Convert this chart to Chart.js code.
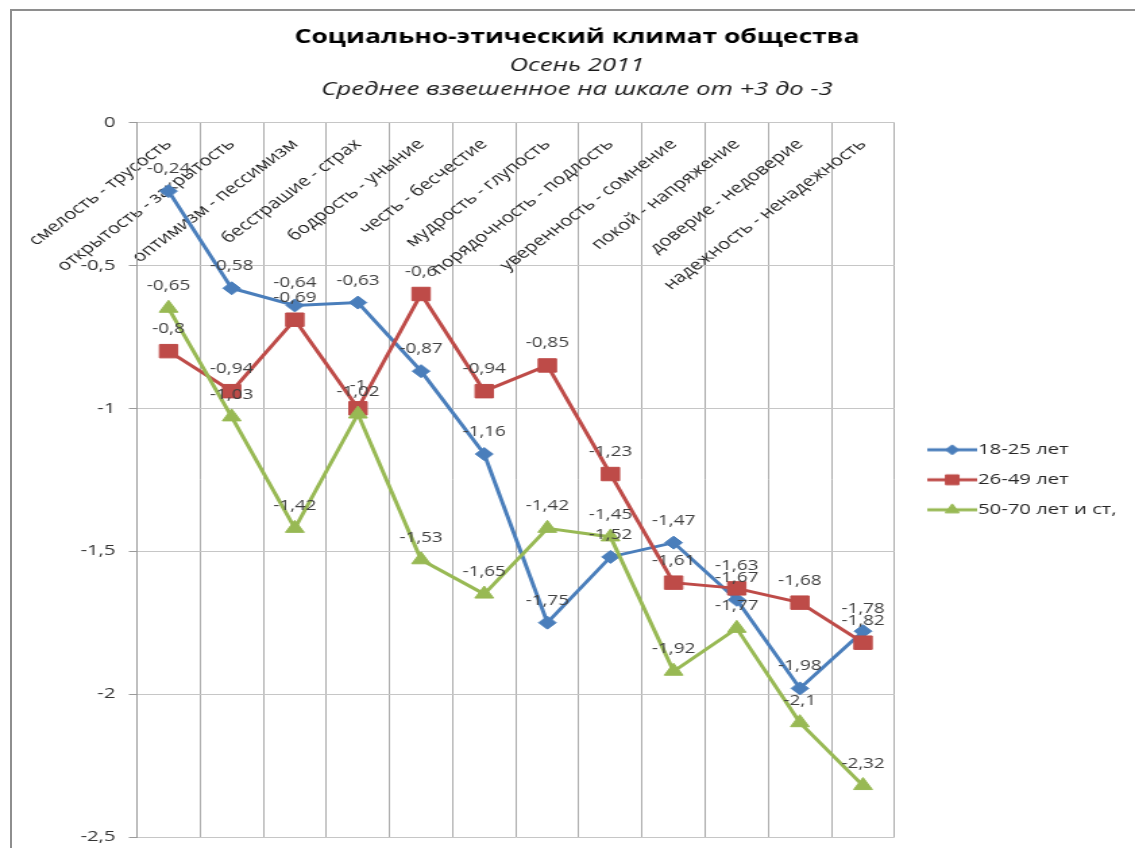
<!DOCTYPE html>
<html><head><meta charset="utf-8">
<script src="https://cdn.jsdelivr.net/npm/chart.js@4.4.1/dist/chart.umd.min.js"></script>
<style>
html,body{margin:0;padding:0;background:#fff;overflow:hidden;width:1135px;height:848px;}
.fl{position:absolute;background:#8e8e8e;}
#wrap{position:absolute;left:0;top:0;width:841px;height:848px;overflow:hidden;transform:scaleX(1.3496);transform-origin:0 0;}
</style></head><body>
<div class="fl" style="left:10px;top:9px;width:2px;height:839px"></div>
<div class="fl" style="left:10px;top:9px;width:1125px;height:2px"></div>
<div id="wrap"><canvas id="c" width="841" height="848" style="width:841px;height:848px;display:block"></canvas></div>
<script>
const titleText = 'Социально-этический климат общества';
const subtitleLines = ['Осень 2011', 'Среднее взвешенное на шкале от +3 до -3'];
const categories = ['смелость - трусость','открытость - закрытость','оптимизм - пессимизм','бесстрашие - страх','бодрость - уныние','честь - бесчестие','мудрость - глупость','порядочность - подлость','уверенность - сомнение','покой - напряжение','доверие - недоверие','надежность - ненадежность'];
const seriesNames = ['18-25 лет', '26-49 лет', '50-70 лет и ст,'];
const values18_25 = [-0.24,-0.58,-0.64,-0.63,-0.87,-1.16,-1.75,-1.52,-1.47,-1.67,-1.98,-1.78];
const values26_49 = [-0.8,-0.94,-0.69,-1,-0.6,-0.94,-0.85,-1.23,-1.61,-1.63,-1.68,-1.82];
const values50_70 = [-0.65,-1.03,-1.42,-1.02,-1.53,-1.65,-1.42,-1.45,-1.92,-1.77,-2.1,-2.32];
const yTickMin = -2.5, yTickMax = 0, yTickStep = 0.5;

const colors = ['#4a7ebb', '#be4b48', '#98b954'];
const styles = ['rectRot', 'rect', 'triangle'];
const radii = [6.5, 9.5, 8];
const legendRadii = [5, 7, 6];
const FONT = '"Open Sans", "DejaVu Sans", sans-serif';

function fmt(v) { return String(Math.round(v * 100) / 100).replace('.', ','); }

function makeIcon(color, style, r) {
  const cv = document.createElement('canvas');
  cv.width = 53; cv.height = 20;
  const c = cv.getContext('2d');
  c.strokeStyle = color; c.fillStyle = color; c.lineWidth = 3;
  c.beginPath(); c.moveTo(16, 10); c.lineTo(53, 10); c.stroke();
  c.lineWidth = 1;
  Chart.helpers.drawPoint(c, {pointStyle: style, radius: r, borderWidth: 1, rotation: 0}, 34.5, 10);
  return cv;
}
const icons = colors.map((c, i) => makeIcon(c, styles[i], legendRadii[i]));

const valueLabels = {
  id: 'valueLabels',
  afterDatasetsDraw(chart) {
    const ctx = chart.ctx;
    ctx.save();
    ctx.font = '14px ' + FONT;
    ctx.fillStyle = '#404040';
    ctx.textAlign = 'center';
    ctx.textBaseline = 'middle';
    chart.data.datasets.forEach((ds, i) => {
      const meta = chart.getDatasetMeta(i);
      meta.data.forEach((pt, j) => {
        ctx.fillText(fmt(ds.data[j]), pt.x, pt.y - 22);
      });
    });
    ctx.restore();
  }
};

const allSeries = [values18_25, values26_49, values50_70];
new Chart(document.getElementById('c'), {
  type: 'line',
  data: {
    labels: categories,
    datasets: allSeries.map((vals, i) => ({
      label: seriesNames[i],
      data: vals,
      borderColor: colors[i],
      backgroundColor: colors[i],
      pointBackgroundColor: colors[i],
      pointBorderColor: colors[i],
      borderWidth: 3,
      pointStyle: styles[i],
      pointRadius: radii[i],
      pointBorderWidth: 1,
      tension: 0,
      fill: false,
      order: 3 - i
    }))
  },
  options: {
    responsive: false,
    devicePixelRatio: 1,
    animation: false,
    layout: {padding: {left: 17.7, right: 3.7, top: 0, bottom: 11}},
    plugins: {
      title: {display: true, text: titleText, color: '#000', font: {family: FONT, size: 19.6, weight: 'bold'}, padding: {top: 26, bottom: 4}},
      subtitle: {display: true, text: subtitleLines, color: '#1a1a1a', font: {family: FONT, size: 19, style: 'italic', lineHeight: '24px'}, padding: {top: 0, bottom: 21}},
      legend: {
        position: 'right',
        fullSize: false,
        labels: {
          usePointStyle: true,
          pointStyleWidth: 39.4,
          padding: 15,
          color: '#262626',
          font: {family: FONT, size: 15},
          sort: (a, b) => a.datasetIndex - b.datasetIndex,
          generateLabels(chart) {
            const items = Chart.defaults.plugins.legend.labels.generateLabels(chart);
            items.forEach(it => { it.pointStyle = icons[it.datasetIndex]; });
            return items;
          }
        }
      },
      tooltip: {enabled: false}
    },
    scales: {
      x: {
        type: 'category',
        position: {y: 0},
        offset: true,
        grid: {offset: true, color: '#ababab', drawTicks: false},
        border: {display: false},
        ticks: {autoSkip: false, minRotation: 45, maxRotation: 45, padding: 13, color: '#1e1e1e', font: {family: FONT, size: 15}}
      },
      y: {
        min: yTickMin, max: yTickMax,
        ticks: {stepSize: yTickStep, padding: 10, color: '#333', font: {family: FONT, size: 15}, callback: v => fmt(v)},
        grid: {color: '#c6c6c6', tickLength: 6, tickColor: '#9a9a9a'},
        border: {display: true, color: '#9a9a9a'},
        afterFit: s => { s.width = 83.8; s.paddingBottom = 0; s.paddingTop = 0; }
      }
    }
  },
  plugins: [valueLabels]
});
</script>
</body></html>
